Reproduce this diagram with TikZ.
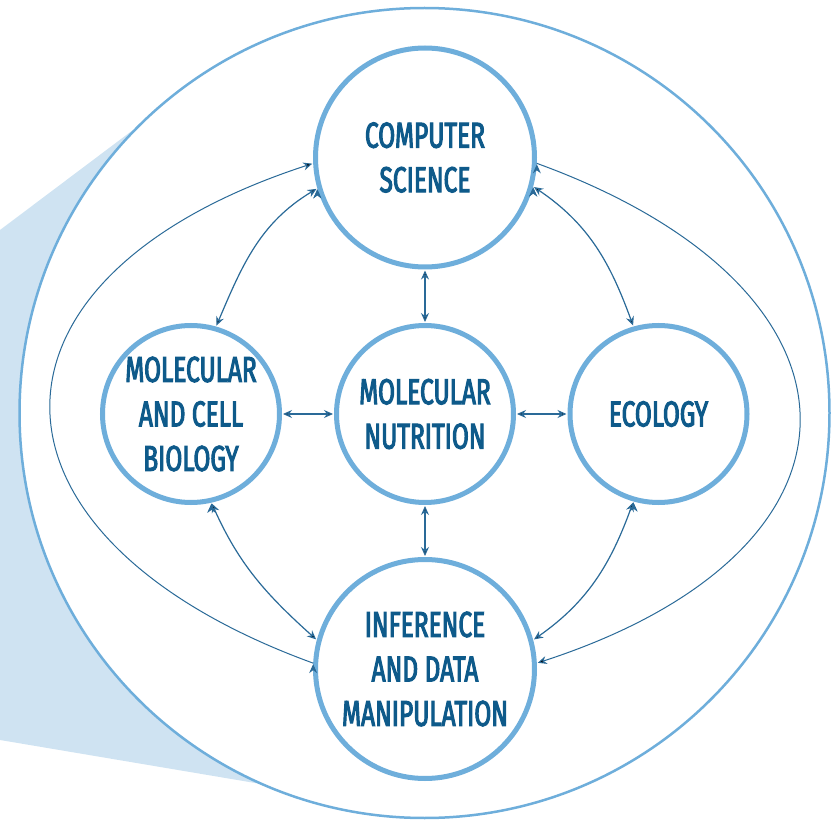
\documentclass[tikz,border=0pt]{standalone}
\usepackage{fontspec}
\newfontfamily\topicfont{Fira Sans}[FakeStretch=0.68,FakeBold=2.8]
\usetikzlibrary{arrows.meta}
\definecolor{ringblue}{HTML}{6EAEDB}
\definecolor{inkblue}{HTML}{0E5A8A}
\definecolor{linkblue}{HTML}{2A6A98}
\definecolor{wedgeblue}{HTML}{CFE3F2}

\begin{document}
\begin{tikzpicture}[x=1pt,y=1pt,>={Stealth[length=9pt,width=8pt,inset=3pt]}]
	\tikzstyle{topic}=[circle,line width=5pt,draw=ringblue,fill=white,text=inkblue,align=center,inner sep=-12pt,font=\topicfont\fontsize{36}{44.5}\selectfont]
	\tikzstyle{link}=[draw=linkblue,line width=1.2pt,<->,shorten >=1pt,shorten <=1pt]
	\tikzstyle{loop}=[draw=linkblue,line width=1pt,->,shorten >=1pt]

	\useasboundingbox (0,0) rectangle (839,-821);

	% wedge and outer ring
	\fill[wedgeblue] (0,-230) -- (133,-130) -- (267,-785) -- (0,-740) -- cycle;
	\draw[ringblue,line width=2.5pt,fill=white] (424.5,-413) circle (405);

	\begin{scope}
		\node [topic,minimum size=219pt] (cs) at (425,-157.5) {COMPUTER\\SCIENCE};
		\node [topic,minimum size=177pt] (mcb) at (191,-414) {MOLECULAR\\AND CELL\\BIOLOGY};
		\node [topic,minimum size=177pt] (mn) at (425,-414) {MOLECULAR\\NUTRITION};
		\node [topic,minimum size=177pt] (eco) at (658.5,-414) {ECOLOGY};
		\node [topic,minimum size=219pt] (inf) at (425,-669) {INFERENCE\\AND DATA\\MANIPULATION};

		\path[link] (cs) edge (mn);
		\path[link] (mn) edge (inf);
		\path[link] (mcb) edge (mn);
		\path[link] (mn) edge (eco);

		\path[link] (cs.196) edge[out=211,in=67] (mcb.74);
		\path[link] (cs.-15) edge[out=-34,in=110] (eco.106);
		\path[link] (mcb.283) edge[out=-66,in=138] (inf.165);
		\path[link] (eco.254) edge[out=250,in=35] (inf.15);

		\path[loop] (inf.177) edge[out=160,in=198,looseness=1.9] (cs.183);
		\path[loop] (cs.-3) edge[out=-20,in=18,looseness=1.9] (inf.3);
	\end{scope}
\end{tikzpicture}
\end{document}
